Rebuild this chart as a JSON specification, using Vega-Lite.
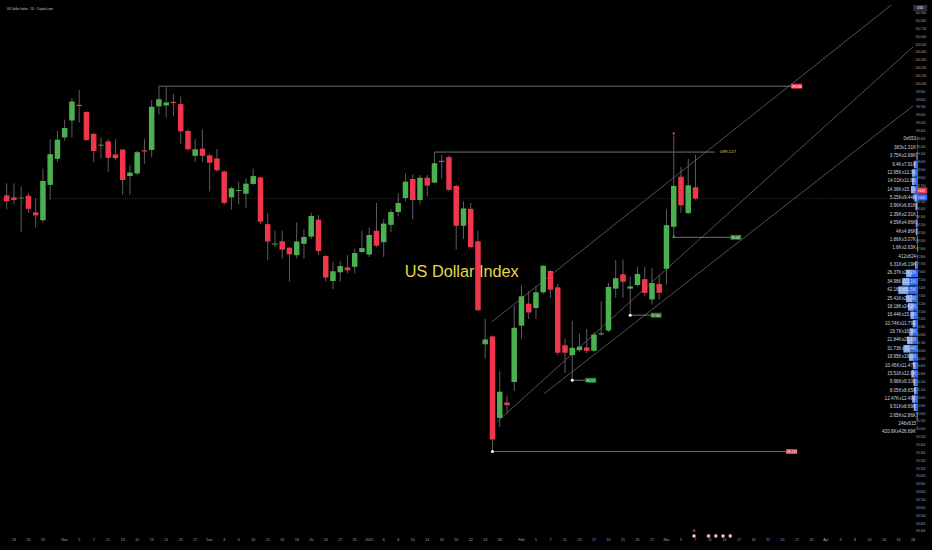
{
  "$schema": "https://vega.github.io/schema/vega-lite/v6.json",
  "width": 918,
  "height": 540,
  "autosize": {"type": "none"},
  "padding": {"left": 0, "top": 0, "right": 14, "bottom": 10},
  "background": "#000000",
  "config": {"view": {"stroke": null}, "font": "Liberation Sans", "axis": {"grid": false, "domain": false, "ticks": false}},
  "datasets": {
    "candles": [
      {"i":0,"o":98.575,"h":98.729,"l":98.4,"c":98.5},
      {"i":1,"o":98.55,"h":98.729,"l":98.463,"c":98.516},
      {"i":2,"o":98.538,"h":98.688,"l":98.104,"c":98.546},
      {"i":3,"o":98.571,"h":98.604,"l":98.354,"c":98.404},
      {"i":4,"o":98.359,"h":98.541,"l":98.166,"c":98.321},
      {"i":5,"o":98.259,"h":98.916,"l":98.229,"c":98.759},
      {"i":6,"o":98.709,"h":99.291,"l":98.521,"c":99.1},
      {"i":7,"o":99.041,"h":99.396,"l":99.0,"c":99.284},
      {"i":8,"o":99.313,"h":99.541,"l":99.271,"c":99.434},
      {"i":9,"o":99.529,"h":99.813,"l":99.313,"c":99.771},
      {"i":10,"o":99.729,"h":99.916,"l":99.5,"c":99.713},
      {"i":11,"o":99.638,"h":99.646,"l":99.271,"c":99.279},
      {"i":12,"o":99.359,"h":99.375,"l":99.0,"c":99.141},
      {"i":13,"o":99.209,"h":99.313,"l":99.041,"c":99.221},
      {"i":14,"o":99.263,"h":99.291,"l":98.875,"c":99.054},
      {"i":15,"o":99.096,"h":99.291,"l":99.021,"c":99.05},
      {"i":16,"o":99.159,"h":99.166,"l":98.584,"c":98.771},
      {"i":17,"o":98.821,"h":98.959,"l":98.584,"c":98.866},
      {"i":18,"o":98.854,"h":99.146,"l":98.834,"c":99.125},
      {"i":19,"o":99.15,"h":99.291,"l":98.979,"c":99.134},
      {"i":20,"o":99.154,"h":99.791,"l":99.063,"c":99.704},
      {"i":21,"o":99.709,"h":99.966,"l":99.604,"c":99.8},
      {"i":22,"o":99.721,"h":99.959,"l":99.563,"c":99.759},
      {"i":23,"o":99.766,"h":99.866,"l":99.584,"c":99.75},
      {"i":24,"o":99.738,"h":99.834,"l":99.229,"c":99.391},
      {"i":25,"o":99.396,"h":99.416,"l":99.146,"c":99.163},
      {"i":26,"o":99.079,"h":99.291,"l":99.0,"c":99.163},
      {"i":27,"o":99.171,"h":99.416,"l":99.0,"c":99.079},
      {"i":28,"o":99.084,"h":99.104,"l":98.625,"c":98.991},
      {"i":29,"o":99.046,"h":99.166,"l":98.875,"c":98.896},
      {"i":30,"o":98.879,"h":98.896,"l":98.459,"c":98.479},
      {"i":31,"o":98.55,"h":98.688,"l":98.396,"c":98.666},
      {"i":32,"o":98.631,"h":98.75,"l":98.459,"c":98.644},
      {"i":33,"o":98.596,"h":98.791,"l":98.416,"c":98.725},
      {"i":34,"o":98.721,"h":98.916,"l":98.709,"c":98.821},
      {"i":35,"o":98.804,"h":98.813,"l":98.209,"c":98.241},
      {"i":36,"o":98.209,"h":98.354,"l":97.75,"c":97.988},
      {"i":37,"o":97.95,"h":98.125,"l":97.916,"c":97.963},
      {"i":38,"o":97.991,"h":98.125,"l":97.771,"c":97.884},
      {"i":39,"o":97.909,"h":97.916,"l":97.479,"c":97.825},
      {"i":40,"o":97.813,"h":98.229,"l":97.771,"c":97.988},
      {"i":41,"o":97.959,"h":98.146,"l":97.771,"c":98.046},
      {"i":42,"o":98.05,"h":98.354,"l":98.021,"c":98.313},
      {"i":43,"o":98.266,"h":98.325,"l":97.813,"c":97.866},
      {"i":44,"o":97.804,"h":97.813,"l":97.479,"c":97.529},
      {"i":45,"o":97.484,"h":97.729,"l":97.384,"c":97.609},
      {"i":46,"o":97.596,"h":97.741,"l":97.479,"c":97.675},
      {"i":47,"o":97.659,"h":97.813,"l":97.584,"c":97.621},
      {"i":48,"o":97.666,"h":97.896,"l":97.584,"c":97.841},
      {"i":49,"o":97.854,"h":98.125,"l":97.834,"c":97.904},
      {"i":50,"o":97.821,"h":98.166,"l":97.791,"c":98.071},
      {"i":51,"o":98.125,"h":98.479,"l":97.916,"c":97.934},
      {"i":52,"o":97.979,"h":98.271,"l":97.791,"c":98.216},
      {"i":53,"o":98.2,"h":98.396,"l":98.104,"c":98.363},
      {"i":54,"o":98.363,"h":98.604,"l":98.313,"c":98.479},
      {"i":55,"o":98.541,"h":98.854,"l":98.5,"c":98.75},
      {"i":56,"o":98.784,"h":98.841,"l":98.271,"c":98.516},
      {"i":57,"o":98.516,"h":98.834,"l":98.459,"c":98.8},
      {"i":58,"o":98.8,"h":98.834,"l":98.563,"c":98.7},
      {"i":59,"o":98.738,"h":99.127,"l":98.729,"c":98.984},
      {"i":60,"o":99.016,"h":99.091,"l":98.791,"c":99.0},
      {"i":61,"o":99.063,"h":99.084,"l":98.625,"c":98.646},
      {"i":62,"o":98.696,"h":98.709,"l":97.884,"c":98.188},
      {"i":63,"o":98.188,"h":98.5,"l":98.021,"c":98.409},
      {"i":64,"o":98.404,"h":98.479,"l":97.9,"c":97.916},
      {"i":65,"o":97.991,"h":98.125,"l":97.104,"c":97.113},
      {"i":66,"o":96.679,"h":97.0,"l":96.5,"c":96.741},
      {"i":67,"o":96.779,"h":96.791,"l":95.313,"c":95.466},
      {"i":68,"o":95.741,"h":96.334,"l":95.625,"c":96.075},
      {"i":69,"o":95.938,"h":96.025,"l":95.8,"c":95.904},
      {"i":70,"o":96.2,"h":97.166,"l":96.084,"c":96.888},
      {"i":71,"o":96.916,"h":97.429,"l":96.75,"c":97.291},
      {"i":72,"o":97.196,"h":97.354,"l":97.0,"c":97.084},
      {"i":73,"o":97.141,"h":97.425,"l":97.0,"c":97.341},
      {"i":74,"o":97.341,"h":97.688,"l":97.313,"c":97.679},
      {"i":75,"o":97.613,"h":97.625,"l":97.271,"c":97.375},
      {"i":76,"o":97.404,"h":97.45,"l":96.541,"c":96.571},
      {"i":77,"o":96.666,"h":96.75,"l":96.313,"c":96.571},
      {"i":78,"o":96.541,"h":96.979,"l":96.221,"c":96.634},
      {"i":79,"o":96.604,"h":96.813,"l":96.584,"c":96.65},
      {"i":80,"o":96.638,"h":96.875,"l":96.563,"c":96.596},
      {"i":81,"o":96.596,"h":96.834,"l":96.584,"c":96.804},
      {"i":82,"o":96.806,"h":97.229,"l":96.791,"c":96.819},
      {"i":83,"o":96.854,"h":97.459,"l":96.834,"c":97.409},
      {"i":84,"o":97.388,"h":97.75,"l":97.271,"c":97.521},
      {"i":85,"o":97.571,"h":97.759,"l":97.271,"c":97.475},
      {"i":86,"o":97.388,"h":97.541,"l":97.05,"c":97.416},
      {"i":87,"o":97.434,"h":97.666,"l":97.416,"c":97.575},
      {"i":88,"o":97.509,"h":97.666,"l":97.291,"c":97.334},
      {"i":89,"o":97.25,"h":97.646,"l":97.188,"c":97.459},
      {"i":90,"o":97.446,"h":97.563,"l":97.25,"c":97.334},
      {"i":91,"o":97.641,"h":98.396,"l":97.438,"c":98.196},
      {"i":92,"o":98.175,"h":99.338,"l":98.041,"c":98.696},
      {"i":93,"o":98.813,"h":98.938,"l":98.354,"c":98.45},
      {"i":94,"o":98.35,"h":99.041,"l":98.334,"c":98.704},
      {"i":95,"o":98.679,"h":99.091,"l":98.521,"c":98.534}
    ],
    "xlabels": [
      {"i":1,"t":"23"},{"i":3,"t":"25"},{"i":5,"t":"29"},{"i":8,"t":"Nov"},{"i":10,"t":"5"},{"i":12,"t":"7"},{"i":14,"t":"11"},{"i":16,"t":"13"},{"i":18,"t":"15"},{"i":20,"t":"19"},{"i":22,"t":"21"},{"i":24,"t":"25"},{"i":26,"t":"27"},
      {"i":28,"t":"Dec"},{"i":30,"t":"4"},{"i":32,"t":"6"},{"i":34,"t":"10"},{"i":36,"t":"12"},{"i":38,"t":"16"},{"i":40,"t":"18"},{"i":42,"t":"20"},{"i":44,"t":"24"},{"i":46,"t":"27"},{"i":48,"t":"31"},
      {"i":50,"t":"2025"},{"i":52,"t":"6"},{"i":54,"t":"8"},{"i":56,"t":"10"},{"i":58,"t":"14"},{"i":60,"t":"16"},{"i":62,"t":"20"},{"i":64,"t":"22"},{"i":66,"t":"24"},{"i":68,"t":"28"},
      {"i":71,"t":"Feb"},{"i":73,"t":"5"},{"i":75,"t":"7"},{"i":77,"t":"11"},{"i":79,"t":"13"},{"i":81,"t":"17"},{"i":83,"t":"19"},{"i":85,"t":"21"},{"i":87,"t":"25"},{"i":89,"t":"27"},
      {"i":91,"t":"Mar"},{"i":93,"t":"5"},{"i":95,"t":"7"},{"i":97,"t":"11"},{"i":99,"t":"13"},{"i":101,"t":"17"},{"i":103,"t":"19"},{"i":105,"t":"21"},{"i":107,"t":"25"},{"i":109,"t":"27"},{"i":111,"t":"31"},
      {"i":113,"t":"Apr"},{"i":115,"t":"4"},{"i":117,"t":"8"},{"i":119,"t":"10"},{"i":121,"t":"14"},{"i":123,"t":"16"},{"i":125,"t":"18"}
    ],
    "ylabels": [
      {"p":94.3},{"p":94.4},{"p":94.5},{"p":94.6},{"p":94.7},{"p":94.8},{"p":94.9},{"p":95.0},{"p":95.1},{"p":95.2},{"p":95.3},{"p":95.4},{"p":95.5},{"p":95.6},{"p":95.7},{"p":95.8},{"p":95.9},
      {"p":96.0},{"p":96.1},{"p":96.2},{"p":96.3},{"p":96.4},{"p":96.5},{"p":96.6},{"p":96.7},{"p":96.8},{"p":96.9},{"p":97.0},{"p":97.1},{"p":97.2},{"p":97.3},{"p":97.4},{"p":97.5},{"p":97.6},{"p":97.7},{"p":97.8},{"p":97.9},
      {"p":98.0},{"p":98.1},{"p":98.2},{"p":98.3},{"p":98.4},{"p":98.5},{"p":98.6},{"p":98.7},{"p":98.8},{"p":98.9},{"p":99.0},{"p":99.1},{"p":99.2},{"p":99.3},{"p":99.4},{"p":99.5},{"p":99.6},{"p":99.7},{"p":99.8},{"p":99.9},
      {"p":100.0},{"p":100.1},{"p":100.2},{"p":100.3},{"p":100.4},{"p":100.5},{"p":100.6},{"p":100.7},{"p":100.8},{"p":100.9}
    ],
    "channel": [
      {"ln":"u","i":66.89,"p":96.9625},{"ln":"u","i":122.0,"p":101.0},
      {"ln":"m","i":67.57,"p":95.6875},{"ln":"m","i":125.0,"p":100.466},
      {"ln":"d","i":74.12,"p":96.05},{"ln":"d","i":125.0,"p":99.714}
    ],
    "levels": [
      {"i0":21,"i1":108.2,"p":99.966,"t":"099.966","k":"red"},
      {"i0":59,"i1":97.7,"p":99.127,"t":"099.127","k":"yellow"},
      {"i0":67,"i1":107.5,"p":95.313,"t":"095.313","k":"red"},
      {"i0":92,"i1":99.8,"p":98.041,"t":"98.041","k":"green"},
      {"i0":78,"i1":79.8,"p":96.221,"t":"96.221","k":"green"},
      {"i0":86,"i1":88.8,"p":97.05,"t":"97.050","k":"green"}
    ],
    "markers": [
      {"i":67,"p":95.313,"m":"dot"},
      {"i":78,"p":96.221,"m":"dot"},
      {"i":86,"p":97.05,"m":"dot"},
      {"i":92,"p":99.36,"m":"down"},
      {"i":92,"p":98.055,"m":"up"}
    ],
    "events": [
      {"i":94.8,"k":"e"},{"i":96.8,"k":"e"},{"i":97.8,"k":"e"},{"i":98.8,"k":"e"},{"i":99.8,"k":"e"},{"i":94.8,"k":"u"}
    ],
    "tags": [
      {"p":98.6375,"t":"98.640","k":"r"},
      {"p":98.55,"t":"98.550","k":"b"},
      {"p":100.963,"t":"USD","k":"g"}
    ],
    "notes": [
      {"t":"US Dollar Index"},
      {"t":"US Dollar Index · 1D · Capital.com"}
    ],
    "profile": [
      {"p":99.2875,"a":0,"b":0.653,"lab":"0x653"},
      {"p":99.1809,"a":0.383,"b":1.31,"lab":"383x1.31K"},
      {"p":99.0743,"a":3.75,"b":2.68,"lab":"3.75Kx2.68K"},
      {"p":98.9676,"a":9.4,"b":7.91,"lab":"9.4Kx7.91K"},
      {"p":98.861,"a":12.95,"b":12.3,"lab":"12.95Kx12.3K"},
      {"p":98.7544,"a":14.01,"b":11.6,"lab":"14.01Kx11.6K"},
      {"p":98.6478,"a":14.36,"b":15.1,"lab":"14.36Kx15.1K"},
      {"p":98.5411,"a":5.25,"b":9.44,"lab":"5.25Kx9.44K"},
      {"p":98.4345,"a":3.96,"b":6.81,"lab":"3.96Kx6.81K"},
      {"p":98.3279,"a":2.39,"b":2.31,"lab":"2.39Kx2.31K"},
      {"p":98.2213,"a":4.59,"b":4.86,"lab":"4.59Kx4.86K"},
      {"p":98.1146,"a":4,"b":4.86,"lab":"4Kx4.86K"},
      {"p":98.008,"a":1.86,"b":3.07,"lab":"1.86Kx3.07K"},
      {"p":97.9014,"a":1.6,"b":2.63,"lab":"1.6Kx2.63K"},
      {"p":97.7948,"a":0.412,"b":0.824,"lab":"412x824"},
      {"p":97.6881,"a":6.31,"b":6.19,"lab":"6.31Kx6.19K"},
      {"p":97.5815,"a":26.37,"b":24.2,"lab":"26.37Kx24.2K"},
      {"p":97.4749,"a":34.98,"b":32.1,"lab":"34.98Kx32.1K"},
      {"p":97.3683,"a":42.16,"b":41.5,"lab":"42.16Kx41.5K"},
      {"p":97.2616,"a":25.41,"b":25.3,"lab":"25.41Kx25.3K"},
      {"p":97.155,"a":18.18,"b":24.2,"lab":"18.18Kx24.2K"},
      {"p":97.0484,"a":16.44,"b":15.8,"lab":"16.44Kx15.8K"},
      {"p":96.9418,"a":10.74,"b":11.79,"lab":"10.74Kx11.79K"},
      {"p":96.8351,"a":19.7,"b":16.9,"lab":"19.7Kx16.9K"},
      {"p":96.7285,"a":21.84,"b":25.1,"lab":"21.84Kx25.1K"},
      {"p":96.6219,"a":31.73,"b":30.4,"lab":"31.73Kx30.4K"},
      {"p":96.5153,"a":18.95,"b":19.6,"lab":"18.95Kx19.6K"},
      {"p":96.4086,"a":10.45,"b":11.47,"lab":"10.45Kx11.47K"},
      {"p":96.302,"a":15.51,"b":12.8,"lab":"15.51Kx12.8K"},
      {"p":96.1954,"a":9.98,"b":9.33,"lab":"9.98Kx9.33K"},
      {"p":96.0888,"a":8.05,"b":8.65,"lab":"8.05Kx8.65K"},
      {"p":95.9821,"a":12.47,"b":12.49,"lab":"12.47Kx12.49K"},
      {"p":95.8755,"a":9.51,"b":8.69,"lab":"9.51Kx8.69K"},
      {"p":95.7689,"a":2.65,"b":2.86,"lab":"2.65Kx2.86K"},
      {"p":95.6623,"a":0.246,"b":0.615,"lab":"246x615"},
      {"p":95.5556,"a":0,"b":0,"lab":"420.6Kx426.69K"}
    ]
  },
  "layer": [
    {
      "layer": [
        {
          "data": {"name": "notes"},
          "transform": [{"filter": "datum.t == 'US Dollar Index'"}],
          "mark": {"type": "text", "align": "left", "baseline": "alphabetic", "fontSize": 16.3, "color": "#e3d94a", "font": "Liberation Sans"},
          "encoding": {
            "x": {"datum": 54.9, "type": "quantitative", "scale": {"domain": [-0.232, 125.0], "nice": false, "zero": false}, "axis": null},
            "y": {"datum": 97.534, "type": "quantitative", "scale": {"domain": [94.25, 101], "nice": false, "zero": false}, "axis": null},
            "text": {"field": "t"}
          }
        },
        {
          "data": {"name": "channel"},
          "mark": {"type": "line", "color": "#8a8a8a", "strokeWidth": 0.7, "opacity": 0.85},
          "encoding": {
            "x": {"field": "i", "type": "quantitative", "scale": {"domain": [-0.232, 125.0], "nice": false, "zero": false}, "axis": null},
            "y": {"field": "p", "type": "quantitative", "scale": {"domain": [94.25, 101], "nice": false, "zero": false}, "axis": null},
            "detail": {"field": "ln"}
          }
        },
        {
          "data": {"name": "candles"},
          "transform": [{"filter": "datum.i == 95"}],
          "mark": {"type": "rule", "color": "#3c3c3c", "strokeWidth": 0.6, "strokeDash": [1, 1]},
          "encoding": {
            "y": {"field": "c", "type": "quantitative", "scale": {"domain": [94.25, 101], "nice": false, "zero": false}, "axis": null}
          }
        },
        {
          "data": {"name": "levels"},
          "mark": {"type": "rule", "color": "#9a9a9a", "strokeWidth": 0.8, "opacity": 0.9},
          "encoding": {
            "x": {"field": "i0", "type": "quantitative", "scale": {"domain": [-0.232, 125.0], "nice": false, "zero": false}, "axis": null},
            "x2": {"field": "i1"},
            "y": {"field": "p", "type": "quantitative", "scale": {"domain": [94.25, 101], "nice": false, "zero": false}, "axis": null}
          }
        },
        {
          "data": {"name": "candles"},
          "mark": {"type": "rule", "color": "#5d5d5d", "strokeWidth": 1},
          "encoding": {
            "x": {"field": "i", "type": "quantitative", "scale": {"domain": [-0.232, 125.0], "nice": false, "zero": false}, "axis": null},
            "y": {"field": "l", "type": "quantitative", "scale": {"domain": [94.25, 101], "nice": false, "zero": false}, "axis": null},
            "y2": {"field": "h"}
          }
        },
        {
          "data": {"name": "candles"},
          "mark": {"type": "bar", "size": 5.5},
          "encoding": {
            "x": {"field": "i", "type": "quantitative", "scale": {"domain": [-0.232, 125.0], "nice": false, "zero": false}, "axis": null},
            "y": {"field": "o", "type": "quantitative", "scale": {"domain": [94.25, 101], "nice": false, "zero": false}, "axis": null},
            "y2": {"field": "c"},
            "color": {"condition": {"test": "datum.c >= datum.o", "value": "#4caf50"}, "value": "#f0364b"}
          }
        },
        {
          "data": {"name": "levels"},
          "transform": [{"filter": "datum.k != 'yellow'"}],
          "mark": {"type": "point", "shape": "M0,-0.45H2V0.45H0Z", "size": 121, "filled": true, "opacity": 1, "strokeWidth": 0},
          "encoding": {
            "x": {"field": "i1", "type": "quantitative", "scale": {"domain": [-0.232, 125.0], "nice": false, "zero": false}, "axis": null},
            "y": {"field": "p", "type": "quantitative", "scale": {"domain": [94.25, 101], "nice": false, "zero": false}, "axis": null},
            "color": {"condition": {"test": "datum.k == 'red'", "value": "#f23645"}, "value": "#1b7f35"}
          }
        },
        {
          "data": {"name": "levels"},
          "transform": [{"filter": "datum.k != 'yellow'"}],
          "mark": {"type": "text", "align": "center", "baseline": "middle", "dx": 5.5, "fontSize": 2.9, "color": "#ffffff"},
          "encoding": {
            "x": {"field": "i1", "type": "quantitative", "scale": {"domain": [-0.232, 125.0], "nice": false, "zero": false}, "axis": null},
            "y": {"field": "p", "type": "quantitative", "scale": {"domain": [94.25, 101], "nice": false, "zero": false}, "axis": null},
            "text": {"field": "t"}
          }
        },
        {
          "data": {"name": "levels"},
          "transform": [{"filter": "datum.k == 'yellow'"}],
          "mark": {"type": "text", "align": "left", "baseline": "middle", "dx": 5, "fontSize": 4.4, "color": "#d6cf5a"},
          "encoding": {
            "x": {"field": "i1", "type": "quantitative", "scale": {"domain": [-0.232, 125.0], "nice": false, "zero": false}, "axis": null},
            "y": {"field": "p", "type": "quantitative", "scale": {"domain": [94.25, 101], "nice": false, "zero": false}, "axis": null},
            "text": {"field": "t"}
          }
        },
        {
          "data": {"name": "markers"},
          "transform": [{"filter": "datum.m == 'dot'"}],
          "mark": {"type": "point", "shape": "circle", "filled": true, "size": 9, "opacity": 1, "color": "#ffffff"},
          "encoding": {
            "x": {"field": "i", "type": "quantitative", "scale": {"domain": [-0.232, 125.0], "nice": false, "zero": false}, "axis": null},
            "y": {"field": "p", "type": "quantitative", "scale": {"domain": [94.25, 101], "nice": false, "zero": false}, "axis": null}
          }
        },
        {
          "data": {"name": "markers"},
          "transform": [{"filter": "datum.m == 'down'"}],
          "mark": {"type": "point", "shape": "triangle-down", "filled": true, "size": 10, "opacity": 1, "color": "#f23645"},
          "encoding": {
            "x": {"field": "i", "type": "quantitative", "scale": {"domain": [-0.232, 125.0], "nice": false, "zero": false}, "axis": null},
            "y": {"field": "p", "type": "quantitative", "scale": {"domain": [94.25, 101], "nice": false, "zero": false}, "axis": null}
          }
        },
        {
          "data": {"name": "markers"},
          "transform": [{"filter": "datum.m == 'up'"}],
          "mark": {"type": "point", "shape": "triangle-up", "filled": true, "size": 10, "opacity": 1, "color": "#4caf50"},
          "encoding": {
            "x": {"field": "i", "type": "quantitative", "scale": {"domain": [-0.232, 125.0], "nice": false, "zero": false}, "axis": null},
            "y": {"field": "p", "type": "quantitative", "scale": {"domain": [94.25, 101], "nice": false, "zero": false}, "axis": null}
          }
        },
        {
          "data": {"name": "events"},
          "transform": [{"filter": "datum.k == 'e'"}],
          "mark": {"type": "point", "filled": true, "size": 11, "color": "#e6e6f0", "stroke": "#b0486a", "strokeWidth": 0.8, "opacity": 1},
          "encoding": {
            "x": {"field": "i", "type": "quantitative", "scale": {"domain": [-0.232, 125.0], "nice": false, "zero": false}, "axis": null},
            "y": {"datum": 94.2375, "type": "quantitative", "scale": {"domain": [94.25, 101], "nice": false, "zero": false}, "axis": null}
          }
        },
        {
          "data": {"name": "events"},
          "transform": [{"filter": "datum.k == 'u'"}],
          "mark": {"type": "point", "filled": true, "size": 10, "color": "#7a2a3a", "opacity": 1},
          "encoding": {
            "x": {"field": "i", "type": "quantitative", "scale": {"domain": [-0.232, 125.0], "nice": false, "zero": false}, "axis": null},
            "y": {"datum": 94.305, "type": "quantitative", "scale": {"domain": [94.25, 101], "nice": false, "zero": false}, "axis": null}
          }
        },
        {
          "data": {"name": "xlabels"},
          "mark": {"type": "text", "align": "center", "baseline": "middle", "fontSize": 3.6, "color": "#a3a6af"},
          "encoding": {
            "x": {"field": "i", "type": "quantitative", "scale": {"domain": [-0.232, 125.0], "nice": false, "zero": false}, "axis": null},
            "y": {"datum": 94.18, "type": "quantitative", "scale": {"domain": [94.25, 101], "nice": false, "zero": false}, "axis": null},
            "text": {"field": "t"}
          }
        },
        {
          "data": {"name": "ylabels"},
          "mark": {"type": "text", "align": "center", "baseline": "middle", "fontSize": 3, "color": "#a3a6af"},
          "encoding": {
            "x": {"datum": 126.08, "type": "quantitative", "scale": {"domain": [-0.232, 125.0], "nice": false, "zero": false}, "axis": null},
            "y": {"field": "p", "type": "quantitative", "scale": {"domain": [94.25, 101], "nice": false, "zero": false}, "axis": null},
            "text": {"field": "p", "type": "quantitative", "format": ".3f"}
          }
        },
        {
          "data": {"name": "tags"},
          "mark": {"type": "point", "shape": "M-1,-0.43H1V0.43H-1Z", "size": 196, "filled": true, "opacity": 1, "strokeWidth": 0},
          "encoding": {
            "x": {"datum": 126.0, "type": "quantitative", "scale": {"domain": [-0.232, 125.0], "nice": false, "zero": false}, "axis": null},
            "y": {"field": "p", "type": "quantitative", "scale": {"domain": [94.25, 101], "nice": false, "zero": false}, "axis": null},
            "color": {"condition": [{"test": "datum.k == 'r'", "value": "#f23645"}, {"test": "datum.k == 'b'", "value": "#2962ff"}], "value": "#2a2e39"}
          }
        },
        {
          "data": {"name": "tags"},
          "mark": {"type": "text", "align": "center", "baseline": "middle", "fontSize": 3, "color": "#ffffff"},
          "encoding": {
            "x": {"datum": 126.0, "type": "quantitative", "scale": {"domain": [-0.232, 125.0], "nice": false, "zero": false}, "axis": null},
            "y": {"field": "p", "type": "quantitative", "scale": {"domain": [94.25, 101], "nice": false, "zero": false}, "axis": null},
            "text": {"field": "t"}
          }
        },
        {
          "data": {"name": "notes"},
          "transform": [{"filter": "datum.t != 'US Dollar Index'"}],
          "mark": {"type": "text", "align": "left", "baseline": "middle", "fontSize": 3, "color": "#c8cad0"},
          "encoding": {
            "x": {"datum": 0, "type": "quantitative", "scale": {"domain": [-0.232, 125.0], "nice": false, "zero": false}, "axis": null},
            "y": {"datum": 100.955, "type": "quantitative", "scale": {"domain": [94.25, 101], "nice": false, "zero": false}, "axis": null},
            "text": {"field": "t"}
          }
        }
      ]
    },
    {
      "data": {"name": "profile"},
      "layer": [
        {
          "transform": [{"fold": ["a", "b"]}],
          "mark": {"type": "bar", "orient": "horizontal", "size": 7.5},
          "encoding": {
            "y": {"field": "p", "type": "quantitative", "scale": {"domain": [94.25, 101], "nice": false, "zero": false}, "axis": null},
            "x": {"field": "value", "type": "quantitative", "stack": "zero", "scale": {"domain": [0, 3900], "reverse": true, "nice": false}, "axis": null},
            "color": {"field": "key", "type": "nominal", "scale": {"domain": ["a", "b"], "range": ["#2f6cf0", "#86a9f2"]}, "legend": null},
            "order": {"field": "key"}
          }
        },
        {
          "mark": {"type": "text", "align": "right", "baseline": "middle", "dx": -2, "fontSize": 4.6, "color": "#d1d4dc"},
          "encoding": {
            "x": {"datum": 0, "type": "quantitative", "scale": {"domain": [0, 3900], "reverse": true, "nice": false}, "axis": null},
            "y": {"field": "p", "type": "quantitative", "scale": {"domain": [94.25, 101], "nice": false, "zero": false}, "axis": null},
            "text": {"field": "lab"}
          }
        }
      ]
    }
  ],
  "resolve": {"scale": {"x": "independent", "color": "independent"}}
}
